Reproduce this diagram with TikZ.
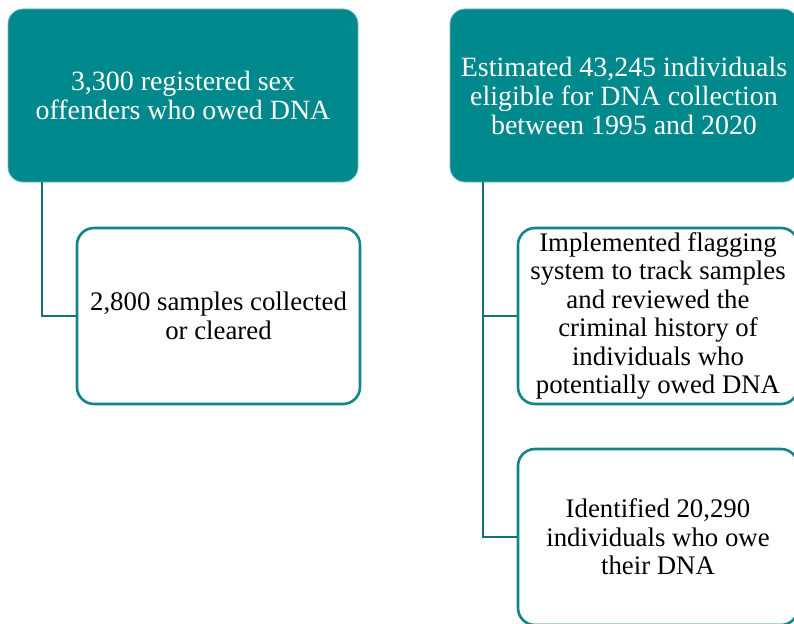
\documentclass[tikz,border=0pt]{standalone}
\usepackage{fontspec}
\setmainfont{Liberation Serif}
\definecolor{teal1}{HTML}{00898C}
\definecolor{tealedge}{HTML}{6DBABC}
\definecolor{tealline}{HTML}{138489}
\definecolor{conn}{HTML}{147179}
\tikzset{
  topbox/.style={draw=tealedge, line width=0.8pt, fill=teal1, rounded corners=15pt, text=white, align=center, inner sep=0pt, font=\fontsize{27.9}{29}\selectfont},
  childbox/.style={draw=tealline, line width=2.6pt, fill=white, rounded corners=17pt, text=black, align=center, inner sep=0pt, font=\fontsize{26.8}{28.5}\selectfont},
  link/.style={draw=conn, line width=2.6pt}
}
\begin{document}
\begin{tikzpicture}[x=1pt,y=-1pt]
\useasboundingbox (0,0) rectangle (794,623);
\clip (0,0) rectangle (794,623);
\node[topbox, minimum width=350pt, minimum height=173pt] (a) at (183,95.5) {3,300 registered sex\\offenders who owed DNA};
\node[childbox, minimum width=283pt, minimum height=176pt] (a1) at (218.5,316) {2,800 samples collected\\or cleared};
\node[topbox, minimum width=348pt, minimum height=173pt] (b) at (624,95.5) {Estimated 43,245 individuals\\eligible for DNA collection\\between 1995 and 2020};
\node[childbox, minimum width=280pt, minimum height=176pt] (b1) at (658,316) {Implemented flagging\\system to track samples\\and reviewed the\\criminal history of\\individuals who\\potentially owed DNA};
\node[childbox, minimum width=280pt, minimum height=176pt] (b2) at (658,537) {Identified 20,290\\individuals who owe\\their DNA};
\coordinate (ta) at (42,182);
\coordinate (tb) at (483,182);
\draw[link] (ta) |- (a1.west);
\draw[link] (tb) |- (b1.west);
\draw[link] (tb) |- (b2.west);
\end{tikzpicture}
\end{document}
